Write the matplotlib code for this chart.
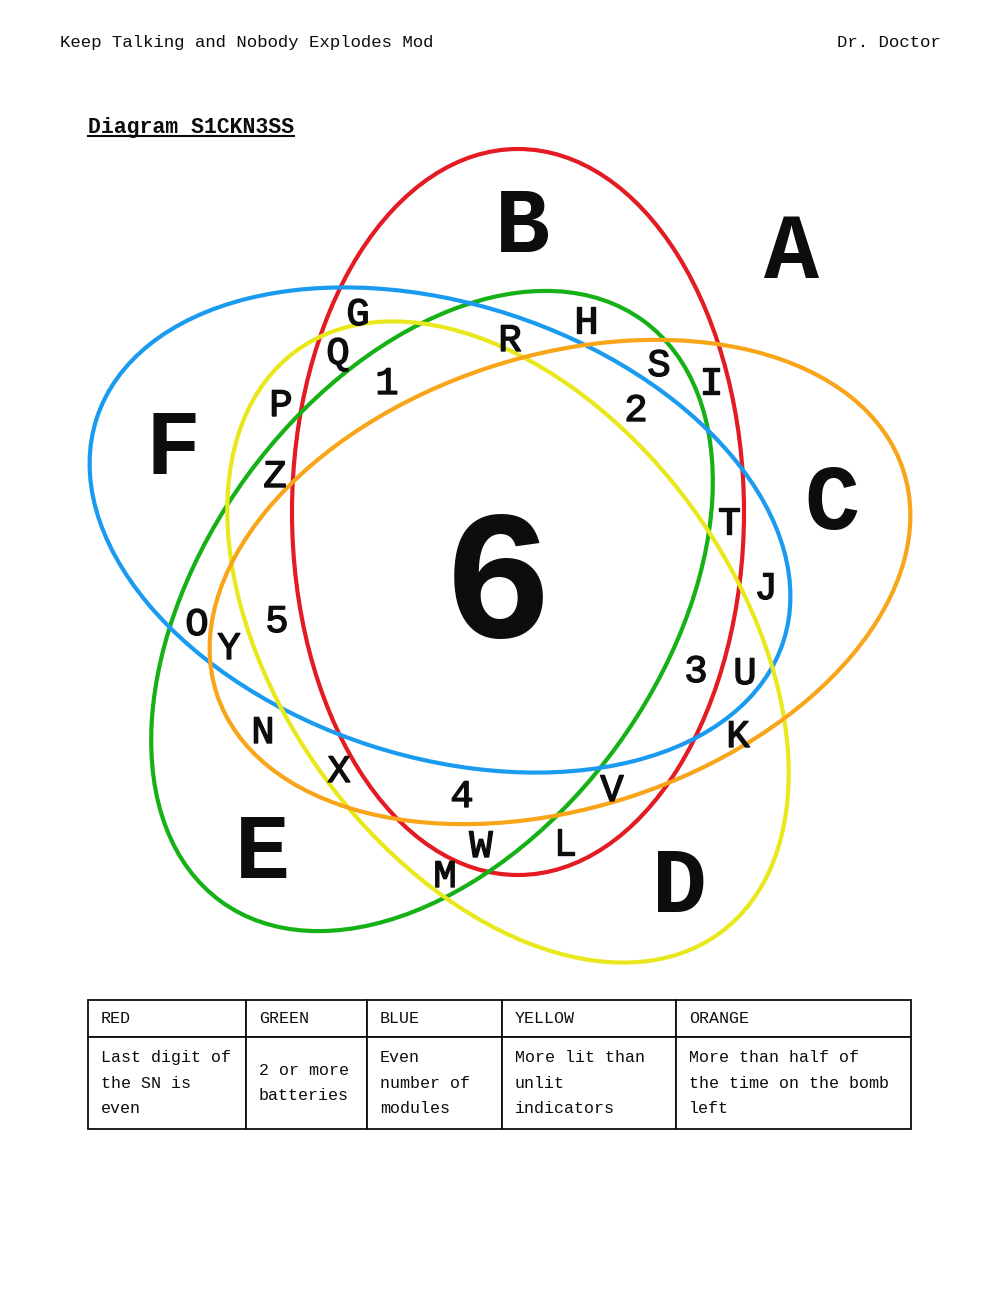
import matplotlib
matplotlib.use("Agg")
import matplotlib.pyplot as plt
import matplotlib.patheffects as pe
from matplotlib.patches import Ellipse

mono = ['Liberation Mono', 'DejaVu Sans Mono']

# rings of the diagram (pixel units)
ring_names = ['RED', 'GREEN', 'BLUE', 'YELLOW', 'ORANGE']
ring_colors = ['#e31b23', '#16b116', '#1b9bf0', '#e8e81c', '#f8a51a']
ring_cx = [518, 432, 440, 508, 560]
ring_cy = [512, 611, 530, 642, 582]
ring_angle = [90, -54, 18, 54, -18]
ring_major = [726, 718, 722, 720, 722]
ring_minor = [452, 458, 453, 456, 452]

# big region letters
big_labels = ['A', 'B', 'C', 'D', 'E', 'F']
big_x = [791, 522, 832, 680, 262, 173]
big_y = [244, 219, 495, 879, 844, 440]

# small letters / digits
small_labels = ['G', 'Q', '1', 'P', 'Z', 'R', 'H', 'S', 'I', '2', 'T',
                'O', 'Y', '5', 'N', 'X', '4', 'W', 'M',
                'J', '3', 'U', 'K', 'V', 'L']
small_x = [358, 338, 387, 281, 275, 510, 586, 659, 711, 636, 729,
           197, 229, 277, 263, 339, 462, 481, 445,
           766, 696, 745, 738, 612, 565]
small_y = [311, 350, 380, 402, 473, 337, 319, 362, 380, 407, 520,
           621, 645, 618, 729, 768, 793, 843, 873,
           585, 668, 670, 733, 787, 841]

# table
headers = ['RED', 'GREEN', 'BLUE', 'YELLOW', 'ORANGE']
rules = ['Last digit of\nthe SN is\neven',
         '2 or more\nbatteries',
         'Even\nnumber of\nmodules',
         'More lit than\nunlit\nindicators',
         'More than half of\nthe time on the bomb\nleft']
col_px = [158, 121, 135, 174, 235]

fig = plt.figure(figsize=(10, 13), dpi=100)
ax = fig.add_axes([0, 0, 1, 1])
ax.set_xlim(0, 1000)
ax.set_ylim(1300, 0)
ax.axis('off')

ink = '#0d0d0d'
heavy = [pe.withStroke(linewidth=1.0, foreground=ink)]

ax.text(60, 41, 'Keep Talking and Nobody Explodes Mod', family=mono,
        fontsize=12.5, color=ink, va='center_baseline')
ax.text(941, 41, 'Dr. Doctor', family=mono, fontsize=12.5, color=ink,
        va='center_baseline', ha='right')
title = ax.text(88, 125, 'Diagram S1CKN3SS', family=mono, fontsize=15.5,
                weight='bold', color=ink, va='center_baseline')

for i in range(len(ring_names)):
    ax.add_patch(Ellipse((ring_cx[i], ring_cy[i]), ring_major[i], ring_minor[i],
                         angle=ring_angle[i], fill=False,
                         ec=ring_colors[i], lw=3))

for lab, x, y in zip(big_labels, big_x, big_y):
    ax.text(x, y, lab, family=mono, fontsize=66, weight='bold', color=ink,
            ha='center', va='center_baseline')

ax.text(498, 570, '6', family=mono, fontsize=132, weight='bold', color=ink,
        ha='center', va='center_baseline')

for lab, x, y in zip(small_labels, small_x, small_y):
    ax.text(x, y, lab, family=mono, fontsize=28, color=ink,
            ha='center', va='center_baseline', path_effects=heavy)

tot = sum(col_px)
tbl = ax.table(cellText=[rules], colLabels=headers,
               colWidths=[w / tot for w in col_px],
               cellLoc='left', colLoc='left',
               bbox=[0.088, (1300 - 1129) / 1300, 0.823, 129 / 1300])
tbl.auto_set_font_size(False)
tbl.set_fontsize(12)
for (r, c), cell in tbl.get_celld().items():
    cell.set_height(37 if r == 0 else 92)
    cell.set_linewidth(1.3)
    cell.set_edgecolor(ink)
    cell.PAD = 13 / col_px[c]
    t = cell.get_text()
    t.set_fontfamily(mono)
    t.set_color(ink)
    t.set_linespacing(1.9)

# underline the title
fig.canvas.draw()
bb = title.get_window_extent().transformed(ax.transData.inverted())
ax.plot([bb.x0, bb.x1], [max(bb.y0, bb.y1) - 2] * 2, color=ink, lw=1.5)

fig.savefig('out.png', dpi=100)
